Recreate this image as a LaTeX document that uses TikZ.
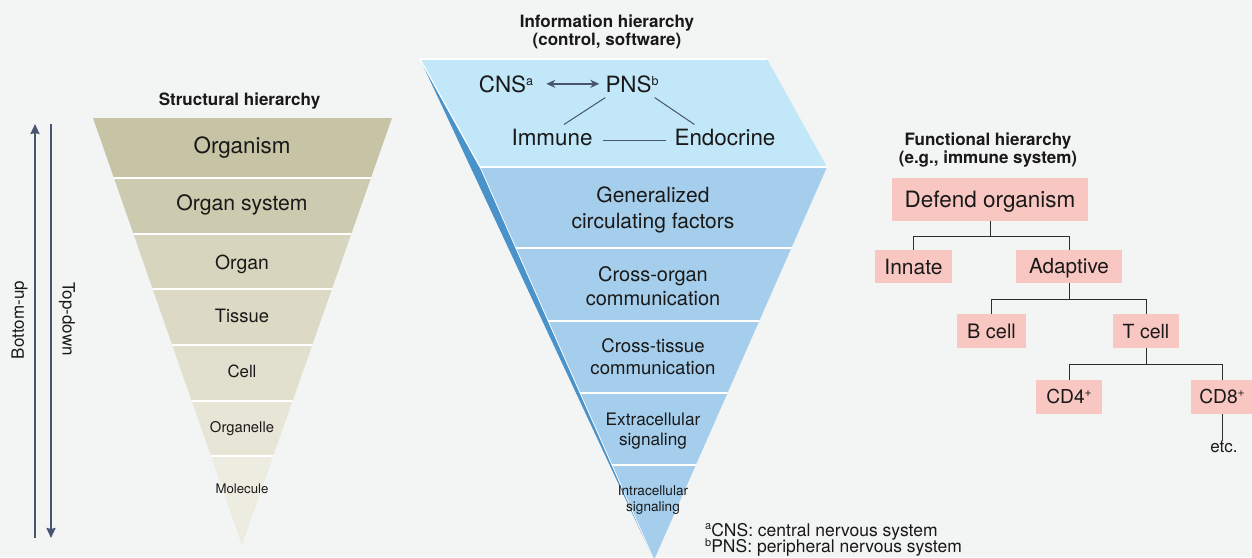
\documentclass[tikz,border=0pt]{standalone}
\usepackage{fontspec}
\setmainfont{TeX Gyre Heros}
\usetikzlibrary{arrows.meta,calc}
\definecolor{bg}{RGB}{243,244,244}
\definecolor{stA}{RGB}{199,196,166}
\definecolor{stB}{RGB}{205,203,175}
\definecolor{stC}{RGB}{215,213,189}
\definecolor{stD}{RGB}{220,218,197}
\definecolor{stE}{RGB}{225,223,205}
\definecolor{stF}{RGB}{231,230,214}
\definecolor{stG}{RGB}{237,236,225}
\definecolor{topb}{RGB}{193,231,248}
\definecolor{lowb}{RGB}{165,206,236}
\definecolor{stripc}{RGB}{74,146,202}
\definecolor{pinkc}{RGB}{249,199,194}
\definecolor{arrc}{RGB}{72,85,112}
\definecolor{treec}{RGB}{45,45,45}
\definecolor{txt}{RGB}{25,25,25}
\newcommand\fsz[1]{\fontsize{#1}{#1}\selectfont}
\begin{document}
\begin{tikzpicture}[x=1pt,y=-1pt,
  every node/.style={text=txt},
  ttl/.style={font=\bfseries\fontsize{17}{18}\selectfont, align=center, inner sep=0},
  lab/.style={inner sep=0, anchor=base, font=\fsz{#1}},
  band/.style n args={2}{inner sep=0, align=center, font=\fontsize{#1}{#2}\selectfont},
  fbox/.style={fill=pinkc, inner sep=0, font=\fsz{#1}, text height={0.72*#1}, text depth=0pt},
  tree/.style={draw=treec, line width=0.9pt},
  iline/.style={draw=arrc, line width=1pt},
  bigarr/.style={draw=arrc, line width=2pt, -{Stealth[length=10pt,width=9pt,inset=1pt]}},
  dblarr/.style={draw=arrc, line width=2pt, {Stealth[length=9pt,width=8pt]}-{Stealth[length=9pt,width=8pt]}},
  sep/.style={draw=white, line width=1.5pt}
]
\fill[bg] (0,0) rectangle (1252,557);
\useasboundingbox (0,0) rectangle (1252,557);

% ---------- structural hierarchy ----------
\begin{scope}
  \clip (93,118) -- (392,118) -- (242,545) -- cycle;
  \fill[stA] (80,110) rectangle (400,178);
  \fill[stB] (80,178) rectangle (400,234);
  \fill[stC] (80,234) rectangle (400,289);
  \fill[stD] (80,289) rectangle (400,345);
  \fill[stE] (80,345) rectangle (400,401);
  \fill[stF] (80,401) rectangle (400,456);
  \fill[stG] (80,456) rectangle (400,550);
  \foreach \yy in {178,234,289,345,401,456} \draw[sep] (80,\yy) -- (400,\yy);
\end{scope}
\node[ttl, anchor=base] (sttitle) at (239.5,105) {Structural hierarchy};
\node[lab=22.4] (s1) at (242,153) {Organism};
\node[lab=21.2] (s2) at (242,210) {Organ system};
\node[lab=19.4] (s3) at (242,269) {Organ};
\node[lab=18.4] (s4) at (242,322) {Tissue};
\node[lab=16.8] (s5) at (242,377) {Cell};
\node[lab=14.8] (s6) at (242,432) {Organelle};
\node[lab=13.2] (s7) at (242,493) {Molecule};

\coordinate (bua) at (35,538);
\coordinate (bub) at (35,124);
\coordinate (tda) at (51,124);
\coordinate (tdb) at (51,538);
\draw[bigarr] (bua) -- (bub);
\draw[bigarr] (tda) -- (tdb);
\node[rotate=90, inner sep=0, font=\fsz{17}] (bulab) at (19.5,320) {Bottom-up};
\node[rotate=-90, inner sep=0, font=\fsz{17}] (tdlab) at (67,319) {Top-down};

% ---------- information hierarchy ----------
\fill[stripc] (420,59) -- (480,167) -- (654,560) -- cycle;
\fill[topb] (420,59) -- (767,59) -- (827,167) -- (480,167) -- cycle;
\fill[lowb] (480,167) -- (827,167) -- (654,560) -- cycle;
\begin{scope}
  \clip (480,167) -- (827,167) -- (654,560) -- cycle;
  \foreach \yy in {248,321,393,465} \draw[sep] (470,\yy) -- (840,\yy);
\end{scope}
\draw[sep] (480,167) -- (827,167);
\draw[draw=white, line width=1.2pt] (420,59) -- (480,167);
\draw[draw=white, line width=1.2pt] (420,59) -- (767,59);
\draw[draw=white, line width=0.7pt] (480,167) -- (654,560);

\node[ttl] (intitle) at (607,32) {Information hierarchy\\(control, software)};
\node[lab=22.4] (cns) at (506,92) {CNS\raisebox{7pt}{\fsz{12.5}a}};
\node[lab=22.4] (pns) at (632,92) {PNS\raisebox{7pt}{\fsz{12.5}b}};
\node[lab=22.4] (immune) at (552,145) {Immune};
\node[lab=22.4] (endo) at (725,145) {Endocrine};
\draw[dblarr] ($(cns.east)+(13,0)$) -- ($(pns.west)+(-6,0)$);
\draw[iline] ($(pns.south west)+(0,5)$) -- ($(immune.north)+(12,-4)$);
\draw[iline] ($(pns.south east)+(-4,5)$) -- ($(endo.north west)+(20,-4)$);
\draw[iline] ($(immune.east)+(10,3)$) -- ($(endo.west)+(-8,3)$);

\node[band={21}{26}] (b1) at (653,209.5) {Generalized\\circulating factors};
\node[band={20}{24}] (b2) at (653,286) {Cross-organ\\communication};
\node[band={18.6}{22}] (b3) at (653,357) {Cross-tissue\\communication};
\node[band={17.2}{20}] (b4) at (653,431.5) {Extracellular\\signaling};
\node[band={13.6}{16}] (b5) at (653,500.5) {Intracellular\\signaling};

\node[lab=17.5, anchor=base west] (fna) at (705,536) {\raisebox{6.5pt}{\fsz{11}a}CNS: central nervous system};
\node[lab=17.5, anchor=base west] (fnb) at (705,552.5) {\raisebox{6.5pt}{\fsz{11}b}PNS: peripheral nervous system};

% ---------- functional hierarchy ----------
\node[ttl] (fntitle) at (988,150) {Functional hierarchy\\(e.g., immune system)};
\node[fbox=22.5, minimum width=196, minimum height=43] (defend) at (990,199.5) {Defend organism};
\node[fbox=21, minimum width=77, minimum height=33] (innate) at (913.5,266.5) {Innate};
\node[fbox=20.7, minimum width=106, minimum height=33] (adaptive) at (1069,266.5) {Adaptive};
\node[fbox=19.9, minimum width=69, minimum height=34] (bcell) at (991.5,331) {B cell};
\node[fbox=19.5, minimum width=66, minimum height=34] (tcell) at (1146,331) {T cell};
\node[fbox=19.2, minimum width=66, minimum height=34] (cdfour) at (1069,397) {CD4\raisebox{7pt}{\fsz{12}+}};
\node[fbox=19.2, minimum width=62, minimum height=34] (cdeight) at (1222,397) {CD8\raisebox{7pt}{\fsz{12}+}};
\node[inner sep=0, font=\fsz{17}, anchor=north] (etc) at (1224,441) {etc.};

\draw[tree] (defend.south) -- ++(0,15) -| (innate.north);
\draw[tree] (defend.south) -- ++(0,15) -| (adaptive.north);
\draw[tree] (adaptive.south) -- ++(0,16) -| (bcell.north);
\draw[tree] (adaptive.south) -- ++(0,16) -| (tcell.north);
\draw[tree] (tcell.south) -- ++(0,16) -| (cdfour.north);
\draw[tree] (tcell.south) -- ++(0,16) -| (cdeight.north);
\draw[tree] (cdeight.south) -- (cdeight.south |- etc.north);
\end{tikzpicture}
\end{document}
